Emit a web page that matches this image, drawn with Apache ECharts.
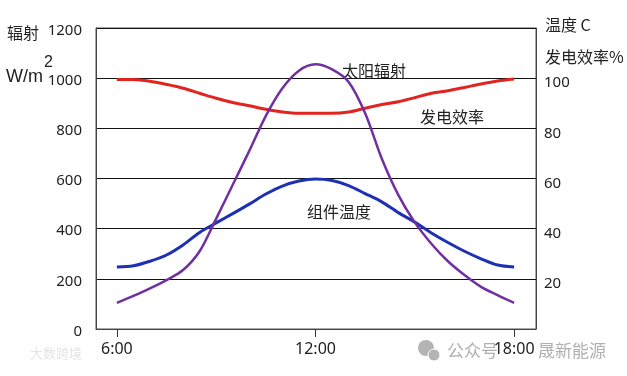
<!DOCTYPE html>
<html>
<head>
<meta charset="utf-8">
<script src="https://cdn.jsdelivr.net/npm/echarts@6/dist/echarts.min.js"></script>
<style>
  html, body { margin: 0; padding: 0; background: #fff; }
  #chart { width: 627px; height: 376px; }
</style>
</head>
<body>
<div id="chart"></div>
<script>
// 一天中的太阳辐射、组件温度、发电效率
var hours = [6, 6.5, 7, 7.5, 8, 8.5, 9, 9.5, 10, 10.5, 11, 11.5, 12,
  12.5, 13, 13.5, 14, 14.5, 15, 15.5, 16, 16.5, 17, 17.5, 18];
// 太阳辐射 W/m2 (左轴)
var radiation = [104, 132, 162, 195, 235, 310, 440, 575, 710, 850, 960, 1030, 1055,
  1035, 985, 860, 680, 535, 425, 340, 270, 215, 168, 135, 104];
// 组件温度 C (右轴)
var temperature = [24.7, 25.2, 27, 29.5, 33.5, 38.5, 42.3, 46, 49.8, 53.8, 57, 59, 59.8,
  59.2, 57.2, 54, 50.7, 46.4, 42.6, 38.3, 34.5, 31, 28, 25.5, 24.7];
// 发电效率 % (右轴)
var efficiency = [99.5, 99.5, 98.8, 97.5, 96, 94, 92, 90.3, 89, 87.6, 86.5, 86, 86,
  86, 86.5, 88, 89.5, 90.6, 92.2, 94, 95, 96.3, 97.7, 98.9, 99.7];
var xTicks = [6, 12, 18];
var rightLabels = [20, 40, 60, 80, 100];

function pairs(vals) {
  return hours.map(function (h, i) { return [h, vals[i]]; });
}

var cjk = '"Noto Sans CJK SC", "Noto Sans", sans-serif';
var num = '"Noto Sans", "Noto Sans CJK SC", sans-serif';

var myChart = echarts.init(document.getElementById('chart'));
var option = {
  backgroundColor: '#fff',
  animation: false,
  grid: {
    left: 96, right: 91, top: 28, bottom: 47,
    show: true, borderColor: '#555', borderWidth: 1
  },
  xAxis: {
    type: 'value',
    min: 5.37,
    max: 18.66,
    axisLine: { show: true, lineStyle: { color: '#444' } },
    axisTick: { show: true, customValues: xTicks, length: 8, inside: false, lineStyle: { color: '#333' } },
    axisLabel: {
      customValues: xTicks,
      formatter: function (v) { return v + ':00'; },
      color: '#222', fontSize: 16, fontFamily: num, margin: 12
    },
    splitLine: { show: false }
  },
  yAxis: [
    {
      type: 'value',
      min: 0, max: 1200, interval: 200,
      axisLine: { show: true, lineStyle: { color: '#444' } },
      axisTick: { show: false },
      axisLabel: {
        margin: 14,
        formatter: function (v) { return '{v|' + v + '}'; },
        rich: { v: { color: '#222', fontSize: 15, fontFamily: num, padding: [5, 0, 0, 0] } }
      },
      splitLine: { show: true, lineStyle: { color: '#111', width: 1 } }
    },
    {
      type: 'value',
      min: 0, max: 120, interval: 20,
      position: 'right',
      axisLine: { show: true, lineStyle: { color: '#444' } },
      axisTick: { show: false },
      axisLabel: {
        customValues: rightLabels,
        margin: 8,
        formatter: function (v) { return '{v|' + v + '}'; },
        rich: { v: { color: '#222', fontSize: 15, fontFamily: num, padding: [10, 0, 0, 0] } }
      },
      splitLine: { show: false }
    }
  ],
  series: [
    {
      name: '发电效率',
      type: 'line',
      yAxisIndex: 1,
      data: pairs(efficiency),
      smooth: 0.3,
      symbol: 'none',
      lineStyle: { color: '#e2231f', width: 3 }
    },
    {
      name: '组件温度',
      type: 'line',
      yAxisIndex: 1,
      data: pairs(temperature),
      smooth: 0.3,
      symbol: 'none',
      lineStyle: { color: '#1e30b4', width: 3 }
    },
    {
      name: '太阳辐射',
      type: 'line',
      yAxisIndex: 0,
      data: pairs(radiation),
      smooth: 0.3,
      symbol: 'none',
      lineStyle: { color: '#7030a0', width: 2.5 }
    }
  ],
  graphic: [
    // 轴名称
    { type: 'text', x: 7, y: 33, style: { text: '辐射', fontSize: 16, fontFamily: cjk, fill: '#222', verticalAlign: 'middle' } },
    { type: 'text', x: 6, y: 77, style: { text: 'W/m', fontSize: 18, fontFamily: '"Liberation Sans", sans-serif', fill: '#222', verticalAlign: 'middle' } },
    { type: 'text', x: 44, y: 63, style: { text: '2', fontSize: 16, fontFamily: '"Liberation Sans", sans-serif', fill: '#222', verticalAlign: 'middle' } },
    { type: 'text', x: 545, y: 25, style: { text: '温度 C', fontSize: 16, fontFamily: cjk, fill: '#222', verticalAlign: 'middle' } },
    { type: 'text', x: 545, y: 57, style: { text: '发电效率%', fontSize: 16, fontFamily: cjk, fill: '#222', verticalAlign: 'middle' } },
    // 曲线标注
    { type: 'text', x: 342, y: 71, style: { text: '太阳辐射', fontSize: 16, fontFamily: cjk, fill: '#222', verticalAlign: 'middle' } },
    { type: 'text', x: 420, y: 117, style: { text: '发电效率', fontSize: 16, fontFamily: cjk, fill: '#222', verticalAlign: 'middle' } },
    { type: 'text', x: 307, y: 212, style: { text: '组件温度', fontSize: 16, fontFamily: cjk, fill: '#222', verticalAlign: 'middle' } },
    // 水印
    { type: 'text', x: 30, y: 353, z: -10, style: { text: '大数跨境', fontSize: 13, fontFamily: cjk, fill: '#e4e4e4', verticalAlign: 'middle' } },
    { type: 'circle', z: -10, shape: { cx: 426, cy: 348, r: 8 }, style: { fill: '#b4b4b4' } },
    { type: 'circle', z: -10, shape: { cx: 434, cy: 355, r: 6 }, style: { fill: '#b4b4b4', stroke: '#fff', lineWidth: 1 } },
    { type: 'text', x: 447, y: 351, z: -10, style: { text: '公众号', fontSize: 17, fontFamily: cjk, fill: '#b0b0b0', verticalAlign: 'middle' } },
    { type: 'text', x: 538, y: 351, z: -10, style: { text: '晟新能源', fontSize: 17, fontFamily: cjk, fill: '#b0b0b0', verticalAlign: 'middle' } }
  ]
};
myChart.setOption(option);
</script>
</body>
</html>
